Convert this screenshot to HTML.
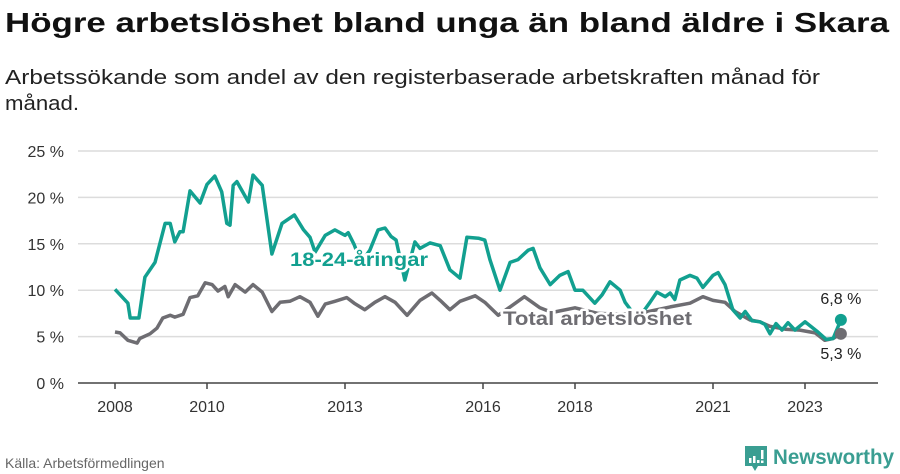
<!DOCTYPE html>
<html><head><meta charset="utf-8"><style>
html,body{margin:0;padding:0;background:#fff;}
svg{display:block;font-family:"Liberation Sans","DejaVu Sans",sans-serif;}
</style></head><body>
<svg id="chart" width="900" height="474" viewBox="0 0 900 474">
<text x="5" y="32" font-size="28" font-weight="bold" fill="#111" textLength="884" lengthAdjust="spacingAndGlyphs">Högre arbetslöshet bland unga än bland äldre i Skara</text>
<text x="5" y="84" font-size="20" fill="#222" textLength="815" lengthAdjust="spacingAndGlyphs">Arbetssökande som andel av den registerbaserade arbetskraften månad för</text>
<text x="5" y="110" font-size="20" fill="#222" textLength="74" lengthAdjust="spacingAndGlyphs">månad.</text>
<g id="grid"></g>
<g id="xaxis"></g>
<g id="series"></g>
<text x="5" y="468" font-size="14" fill="#666">Källa: Arbetsförmedlingen</text>
<g>
<path d="M745 446 h22 v20 h-9 l-3 5 l-3 -5 h-7 z" fill="#3a9e92"/>
<rect x="749" y="458" width="2.5" height="5" fill="#fff"/><rect x="753" y="456" width="2.5" height="7" fill="#fff"/><rect x="757" y="460" width="2.5" height="3" fill="#fff"/><rect x="761" y="450" width="2.5" height="9" fill="#fff"/><rect x="761" y="460.5" width="2.5" height="2.5" fill="#fff"/>
<text x="773" y="464" font-size="21" font-weight="bold" fill="#3a9e92" textLength="121" lengthAdjust="spacingAndGlyphs">Newsworthy</text>
</g>
</svg>
<script>
const yTicks=[0,5,10,15,20,25];
const xTickYears=[2008,2010,2013,2016,2018,2021,2023];
const youthDates=[2008.0,2008.28,2008.33,2008.52,2008.65,2008.87,2009.09,2009.2,2009.3,2009.41,2009.48,2009.63,2009.85,2010.0,2010.17,2010.32,2010.43,2010.5,2010.57,2010.65,2010.9,2011.0,2011.2,2011.41,2011.63,2011.9,2012.1,2012.24,2012.35,2012.57,2012.78,2013.0,2013.07,2013.2,2013.35,2013.54,2013.72,2013.87,2014.0,2014.11,2014.3,2014.52,2014.63,2014.85,2015.07,2015.28,2015.5,2015.65,2015.9,2016.04,2016.15,2016.37,2016.59,2016.76,2016.98,2017.09,2017.24,2017.46,2017.67,2017.85,2018.0,2018.17,2018.43,2018.59,2018.76,2018.98,2019.09,2019.3,2019.5,2019.63,2019.78,2019.96,2020.07,2020.17,2020.28,2020.5,2020.65,2020.78,2021.0,2021.11,2021.26,2021.43,2021.59,2021.7,2021.85,2022.02,2022.13,2022.24,2022.37,2022.5,2022.63,2022.78,2023.0,2023.28,2023.46,2023.61,2023.78];
const youthValues=[10.1,8.6,7.0,7.0,11.4,13.0,17.2,17.2,15.2,16.3,16.3,20.7,19.4,21.4,22.3,20.6,17.2,17.0,21.3,21.7,19.5,22.4,21.3,13.9,17.2,18.1,16.5,15.7,14.1,15.9,16.5,15.9,16.2,14.9,13.0,14.3,16.5,16.7,15.8,15.4,11.1,15.2,14.5,15.1,14.8,12.2,11.3,15.7,15.6,15.4,13.3,10.0,13.0,13.3,14.3,14.5,12.4,10.6,11.6,12.0,10.0,10.0,8.6,9.5,10.9,10.0,8.7,7.3,7.8,8.7,9.8,9.3,9.7,9.0,11.1,11.6,11.3,10.3,11.6,11.9,10.6,7.9,7.0,7.7,6.7,6.6,6.3,5.3,6.4,5.7,6.5,5.7,6.6,5.5,4.7,4.8,6.8];
const totalDates=[2008.0,2008.11,2008.28,2008.48,2008.54,2008.76,2008.91,2009.04,2009.2,2009.3,2009.48,2009.63,2009.8,2009.96,2010.11,2010.24,2010.39,2010.46,2010.61,2010.83,2011.0,2011.2,2011.41,2011.59,2011.8,2012.02,2012.24,2012.41,2012.57,2012.78,2013.04,2013.2,2013.43,2013.65,2013.87,2014.09,2014.35,2014.63,2014.89,2015.07,2015.28,2015.5,2015.83,2016.04,2016.33,2016.59,2016.9,2017.24,2017.5,2018.0,2018.5,2019.0,2019.5,2020.07,2020.5,2020.78,2021.0,2021.26,2021.48,2021.8,2022.02,2022.24,2022.57,2022.89,2023.22,2023.43,2023.61,2023.78];
const totalValues=[5.5,5.4,4.6,4.3,4.8,5.3,5.9,7.0,7.3,7.1,7.4,9.2,9.4,10.8,10.6,9.9,10.4,9.3,10.6,9.8,10.6,9.8,7.7,8.7,8.8,9.3,8.7,7.2,8.5,8.8,9.2,8.6,7.9,8.7,9.3,8.7,7.3,8.9,9.7,8.9,7.9,8.8,9.4,8.7,7.3,8.2,9.3,8.1,7.6,8.1,7.5,7.4,7.6,8.2,8.6,9.3,8.9,8.7,7.7,6.8,6.6,6.1,5.8,5.7,5.4,4.6,4.8,5.3];
const NS="http://www.w3.org/2000/svg";
const X0=78,X1=878,Y0=383,Y1=151;
function xs(d){return 115+(d-2008)*46;}
function ys(v){return Y0-(v/25)*(Y0-Y1);}
function mk(tag,attrs,parent){const e=document.createElementNS(NS,tag);for(const k in attrs)e.setAttribute(k,attrs[k]);parent.appendChild(e);return e;}
const grid=document.getElementById('grid'),xa=document.getElementById('xaxis'),ser=document.getElementById('series');
yTicks.forEach(t=>{
  if(t>0){const l=mk('line',{x1:X0,x2:X1,y1:ys(t),y2:ys(t),stroke:'#dcdcdc','stroke-width':1.5},grid);
  
  }
  const tx=mk('text',{x:64,y:ys(t)+6,'font-size':16,fill:'#333','text-anchor':'end'},grid);
  tx.textContent=t+' %';
  
  
});
const ax=mk('line',{x1:X0,x2:X1,y1:Y0,y2:Y0,stroke:'#444','stroke-width':1.5},xa);


xTickYears.forEach(yr=>{
  const tk=mk('line',{x1:xs(yr),x2:xs(yr),y1:Y0,y2:Y0+6,stroke:'#444','stroke-width':1.5},xa);
  
  
  const tx=mk('text',{x:xs(yr),y:Y0+29,'font-size':16,fill:'#333','text-anchor':'middle'},xa);
  tx.textContent=yr;
  
  
});
function pathD(ds,vs){return ds.map((d,i)=>(i?'L':'M')+xs(d).toFixed(1)+' '+ys(vs[i]).toFixed(1)).join(' ');}
const tl=mk('path',{d:pathD(totalDates,totalValues),fill:'none',stroke:'#6e6d72','stroke-width':3.5,'stroke-linejoin':'round'},ser);


const yl=mk('path',{d:pathD(youthDates,youthValues),fill:'none',stroke:'#12a090','stroke-width':3.5,'stroke-linejoin':'round'},ser);


const lt=totalDates.length-1,ly=youthDates.length-1;
const td=mk('circle',{cx:xs(totalDates[lt]),cy:ys(totalValues[lt]),r:6,fill:'#6e6d72'},ser);


const yd=mk('circle',{cx:xs(youthDates[ly]),cy:ys(youthValues[ly]),r:6,fill:'#12a090'},ser);


const yv=mk('text',{x:xs(youthDates[ly]),y:ys(youthValues[ly])-16,'font-size':16,fill:'#222','text-anchor':'middle'},ser);
yv.textContent=youthValues[ly].toFixed(1).replace('.',',')+' %';


const tv=mk('text',{x:xs(totalDates[lt]),y:ys(totalValues[lt])+25,'font-size':16,fill:'#222','text-anchor':'middle'},ser);
tv.textContent=totalValues[lt].toFixed(1).replace('.',',')+' %';


const l1=mk('text',{x:290,y:266,'font-size':19,'font-weight':'bold',fill:'#12a090',stroke:'#fff','stroke-width':5,'paint-order':'stroke','stroke-linejoin':'round',textLength:138,lengthAdjust:'spacingAndGlyphs'},ser);
l1.textContent='18-24-åringar';


const l2=mk('text',{x:503,y:325,'font-size':19,'font-weight':'bold',fill:'#6e6d72',stroke:'#fff','stroke-width':5,'paint-order':'stroke','stroke-linejoin':'round',textLength:189,lengthAdjust:'spacingAndGlyphs'},ser);
l2.textContent='Total arbetslöshet';


</script>
</body></html>
